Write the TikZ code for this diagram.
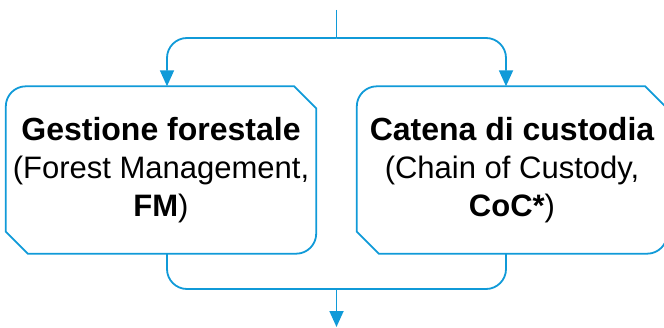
\documentclass[tikz,border=0pt]{standalone}
\usepackage{fontspec}
\setmainfont{Liberation Sans}
\usetikzlibrary{arrows.meta,calc}
\definecolor{fsc}{RGB}{16,154,216}
\newcommand\chambox[1]{%
  \draw[fscline] ([xshift=-22pt]#1.north east) -- ([yshift=-22pt]#1.north east)
    -- ([yshift=20pt]#1.south east) .. controls +(0,-11) and +(11,0) .. ([xshift=-20pt]#1.south east)
    -- ([xshift=22pt]#1.south west) -- ([yshift=22pt]#1.south west)
    -- ([yshift=-20pt]#1.north west) .. controls +(0,11) and +(-11,0) .. ([xshift=20pt]#1.north west)
    -- cycle;}
\newcommand\bfbig[1]{{\fontsize{32}{38}\selectfont\bfseries #1}}
\begin{document}
\begin{tikzpicture}[x=1pt,y=1pt,
  fscline/.style={draw=fsc,line width=1.8pt},
  arr/.style={-{Triangle[length=16pt,width=14pt]}},
  boxnode/.style={minimum width=310pt,minimum height=167pt,inner sep=0pt,align=center,
    font=\fontsize{31}{38}\selectfont}]
\useasboundingbox (0,0) rectangle (664,327);
\node[boxnode] (L) at (161,157) {\bfbig{Gestione forestale}\\(Forest Management,\\\textbf{FM})};
\node[boxnode] (R) at (512,157) {\bfbig{Catena di custodia}\\(Chain of Custody,\\\textbf{CoC*})};
\coordinate (Lb) at (161,158.5);
\chambox{L}
\chambox{R}
\coordinate (top) at (336.5,317);
\coordinate (split) at (336.5,289);
\coordinate (join) at (336.5,38);
\coordinate (bot) at (336.5,0);
\draw[fscline] (top) -- (split);
\draw[fscline,rounded corners=20pt,arr] (split) -| ([xshift=6pt]L.north);
\draw[fscline,rounded corners=20pt,arr] (split) -| ([xshift=-6pt]R.north);
\draw[fscline,rounded corners=20pt] ([xshift=6pt]L.south) |- (join) -| ([xshift=-6pt]R.south);
\draw[fscline,arr] (join) -- (bot);
\end{tikzpicture}
\end{document}
